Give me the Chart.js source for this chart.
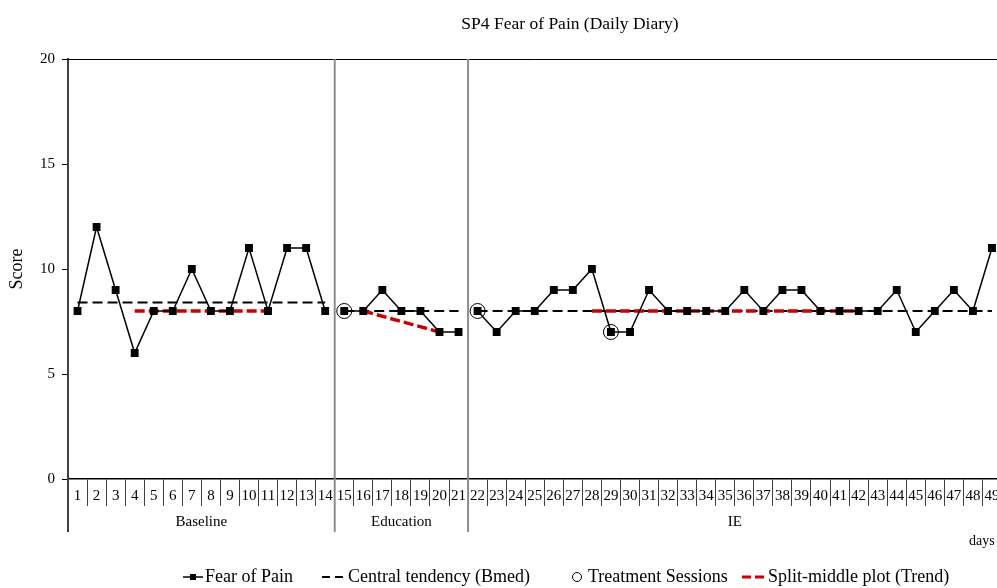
<!DOCTYPE html>
<html>
<head>
<meta charset="utf-8">
<title>SP4 Fear of Pain (Daily Diary)</title>
<script src="https://cdn.jsdelivr.net/npm/chart.js@4.4.0/dist/chart.umd.min.js"></script>
<style>
    html, body { margin: 0; padding: 0; background: #fff; overflow: hidden; }
    #wrap { width: 997px; height: 588px; overflow: hidden; }
</style>
</head>
<body>
<div id="wrap"><canvas id="chart" width="1010" height="588"></canvas></div>
<script>
var days = ['1', '2', '3', '4', '5', '6', '7', '8', '9', '10', '11', '12', '13', '14',
    '15', '16', '17', '18', '19', '20', '21', '22', '23', '24', '25', '26', '27', '28',
    '29', '30', '31', '32', '33', '34', '35', '36', '37', '38', '39', '40', '41', '42',
    '43', '44', '45', '46', '47', '48', '49'];
var yTicks = [0, 5, 10, 15, 20];

var phases = ['Baseline', 'Education', 'IE'];
var baselineScores = [8, 12, 9, 6, 8, 8, 10, 8, 8, 11, 8, 11, 11, 8];
var educationScores = [8, 8, 9, 8, 8, 7, 7];
var ieScores = [8, 7, 8, 8, 9, 9, 10, 7, 7, 9, 8, 8, 8, 8, 9, 8, 9, 9, 8, 8, 8, 8, 9, 7, 8, 9, 8, 11];

// central tendency (Bmed) per phase
var centralTendency = [8.4, 8, 8];

// split-middle trend lines per phase
var trendFromDay = [4, 16, 28];
var trendFromValue = [8, 8, 8];
var trendToDay = [11, 20, 42];
var trendToValue = [8, 7, 8];

var treatmentDays = [15, 22, 29];

(function () {
    var phaseScores = [baselineScores, educationScores, ieScores];
    var allScores = baselineScores.concat(educationScores, ieScores);
    var serif = "'Liberation Serif', 'Times New Roman', serif";

    var phaseStart = [];
    var first = 0;
    phaseScores.forEach(function (s) { phaseStart.push(first); first += s.length; });

    var datasets = [];

    // Fear of Pain, one dataset per phase so the line breaks at phase changes
    phaseScores.forEach(function (scores, p) {
        datasets.push({
            label: 'Fear of Pain',
            data: scores.map(function (v, i) { return { x: days[phaseStart[p] + i], y: v }; }),
            borderColor: '#000',
            backgroundColor: '#000',
            borderWidth: 1.5,
            pointStyle: 'rect',
            pointRadius: 4.5,
            pointHoverRadius: 4.5,
            tension: 0
        });
    });

    phases.forEach(function (name, p) {
        datasets.push({
            label: 'Split-middle plot (Trend)',
            data: [
                { x: String(trendFromDay[p]), y: trendFromValue[p] },
                { x: String(trendToDay[p]), y: trendToValue[p] }
            ],
            borderColor: '#cc0000',
            borderWidth: 3.5,
            borderDash: [10, 4],
            pointRadius: 0
        });
    });

    phases.forEach(function (name, p) {
        var s = phaseScores[p];
        datasets.push({
            label: 'Central tendency (Bmed)',
            data: [
                { x: days[phaseStart[p]], y: centralTendency[p] },
                { x: days[phaseStart[p] + s.length - 1], y: centralTendency[p] }
            ],
            borderColor: '#000',
            borderWidth: 2,
            borderDash: [10, 5],
            pointRadius: 0
        });
    });

    datasets.push({
        label: 'Treatment Sessions',
        data: treatmentDays.map(function (d) { return { x: String(d), y: allScores[d - 1] }; }),
        showLine: false,
        pointStyle: 'circle',
        pointRadius: 7.5,
        pointHoverRadius: 7.5,
        borderColor: '#000',
        borderWidth: 1,
        backgroundColor: 'rgba(0,0,0,0)'
    });

    function hline(ctx, x1, x2, y) {
        ctx.beginPath(); ctx.moveTo(x1, y); ctx.lineTo(x2, y); ctx.stroke();
    }
    function vline(ctx, x, y1, y2) {
        ctx.beginPath(); ctx.moveTo(x, y1); ctx.lineTo(x, y2); ctx.stroke();
    }

    var decorations = {
        id: 'decorations',
        afterDraw: function (chart) {
            var ctx = chart.ctx;
            var area = chart.chartArea;
            var xs = chart.scales.x;
            var axisBottom = 532;
            ctx.save();

            // top border
            ctx.strokeStyle = '#000';
            ctx.lineWidth = 1;
            hline(ctx, area.left, area.right, area.top + 0.5);

            // y axis continues down through the category rows
            ctx.strokeStyle = '#404040';
            ctx.lineWidth = 2;
            vline(ctx, area.left, area.bottom, axisBottom);

            // phase separators and phase names
            ctx.fillStyle = '#000';
            ctx.font = '15px ' + serif;
            ctx.textAlign = 'center';
            ctx.textBaseline = 'middle';
            phases.forEach(function (name, p) {
                var a = phaseStart[p];
                var b = a + phaseScores[p].length - 1;
                var left = a === 0 ? area.left : (xs.getPixelForValue(a - 1) + xs.getPixelForValue(a)) / 2;
                var right = b === days.length - 1 ? area.right : (xs.getPixelForValue(b) + xs.getPixelForValue(b + 1)) / 2;
                if (a > 0) {
                    ctx.strokeStyle = '#8c8c8c';
                    ctx.lineWidth = 2;
                    vline(ctx, left, area.top, axisBottom);
                }
                ctx.fillText(name, (left + right) / 2, 522);
            });

            ctx.textAlign = 'left';
            ctx.font = '14px ' + serif;
            ctx.fillText('days', 969, 541);

            // title
            ctx.font = '17.5px ' + serif;
            ctx.textAlign = 'center';
            ctx.fillText('SP4 Fear of Pain (Daily Diary)', 570, 24);

            // y axis title
            ctx.save();
            ctx.translate(17, (area.top + area.bottom) / 2);
            ctx.rotate(-Math.PI / 2);
            ctx.font = '18px ' + serif;
            ctx.fillText('Score', 0, 0);
            ctx.restore();

            // legend
            var ly = 577;
            ctx.font = '18px ' + serif;
            ctx.textAlign = 'left';

            ctx.strokeStyle = '#000';
            ctx.lineWidth = 1.5;
            hline(ctx, 183, 203, ly);
            ctx.fillRect(190, ly - 3, 6, 6);
            ctx.fillText('Fear of Pain', 205, ly);

            ctx.lineWidth = 2;
            ctx.setLineDash([8, 5]);
            hline(ctx, 322, 346, ly);
            ctx.setLineDash([]);
            ctx.fillText('Central tendency (Bmed)', 348, ly);

            ctx.lineWidth = 1;
            ctx.beginPath();
            ctx.arc(577, ly, 4.5, 0, Math.PI * 2);
            ctx.stroke();
            ctx.fillText('Treatment Sessions', 588, ly);

            ctx.strokeStyle = '#cc0000';
            ctx.lineWidth = 3;
            ctx.setLineDash([9, 4]);
            hline(ctx, 742, 766, ly);
            ctx.setLineDash([]);
            ctx.fillText('Split-middle plot (Trend)', 768, ly);

            ctx.restore();
        }
    };

    new Chart(document.getElementById('chart').getContext('2d'), {
        type: 'line',
        data: { labels: days, datasets: datasets },
        options: {
            responsive: false,
            animation: false,
            layout: { padding: { left: 0, top: 59, right: 7.5, bottom: 0 } },
            plugins: { legend: { display: false }, title: { display: false }, tooltip: { enabled: false } },
            scales: {
                x: {
                    type: 'category',
                    offset: true,
                    grid: { offset: true, drawOnChartArea: false, tickLength: 27, color: '#404040', lineWidth: 1 },
                    border: { color: '#000', width: 1.5 },
                    ticks: { autoSkip: false, maxRotation: 0, padding: -19, color: '#000', font: { family: serif, size: 15 } },
                    afterFit: function (s) { s.height = 109; }
                },
                y: {
                    min: 0,
                    max: 20,
                    afterBuildTicks: function (s) { s.ticks = yTicks.map(function (v) { return { value: v }; }); },
                    grid: { drawOnChartArea: false, tickLength: 6, color: '#000' },
                    border: { color: '#404040', width: 2 },
                    ticks: { padding: 7, color: '#000', font: { family: serif, size: 15 } },
                    afterFit: function (s) { s.width = 68; }
                }
            }
        },
        plugins: [decorations]
    });
})();
</script>
</body>
</html>
